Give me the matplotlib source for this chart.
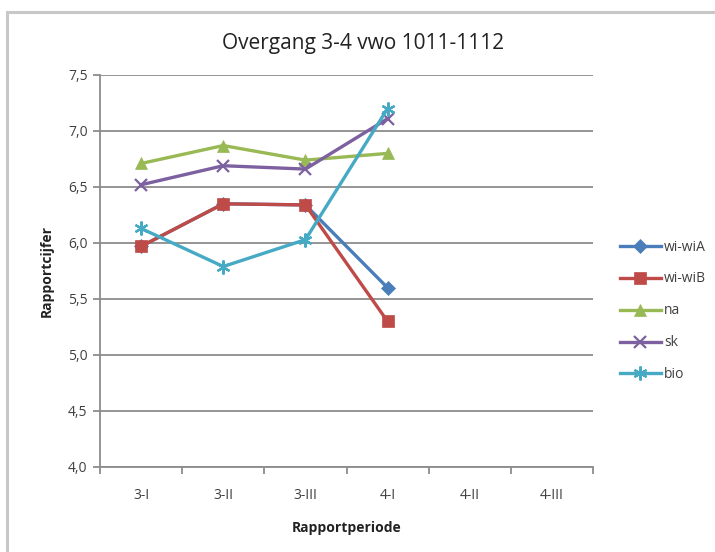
import matplotlib.pyplot as plt
from matplotlib.patches import Rectangle

plt.rcParams['font.family'] = ['Open Sans', 'DejaVu Sans']

perioden = ['3-I', '3-II', '3-III', '4-I', '4-II', '4-III']
wi_wiA = [5.97, 6.35, 6.34, 5.60]
wi_wiB = [5.97, 6.35, 6.34, 5.30]
na = [6.71, 6.87, 6.74, 6.80]
sk = [6.52, 6.69, 6.66, 7.11]
bio = [6.13, 5.79, 6.03, 7.20]

reeksen = [
    ('wi-wiA', wi_wiA, '#4A7EBB', 'D', 7),
    ('wi-wiB', wi_wiB, '#BE4B48', 's', 9),
    ('na', na, '#98B954', '^', 9),
    ('sk', sk, '#7D60A0', 'x', 8),
    ('bio', bio, '#46AAC5', (6, 2, 0), 10),
]

fig = plt.figure(figsize=(7.15, 5.52), dpi=100)
# kader om de grafiek
fig.patches.append(Rectangle((7 / 715, -0.1), 1.2, (552 - 12) / 552 + 0.1,
                             transform=fig.transFigure, fill=False,
                             edgecolor='#c8c8c8', linewidth=2.2))

ax = fig.add_axes([100 / 715, (552 - 467) / 552, 493 / 715, 392 / 552])

x = list(range(len(perioden)))
for naam, waarden, kleur, marker, ms in reeksen:
    ax.plot(x[:len(waarden)], waarden, color=kleur, linewidth=2.4,
            marker=marker, markersize=ms, markeredgewidth=1.6 if marker in ('x', (6, 2, 0)) else 0.5,
            markeredgecolor=kleur, label=naam, clip_on=False)

ax.set_xlim(-0.5, 5.5)
ax.set_ylim(4.0, 7.5)
ax.set_yticks([4.0, 4.5, 5.0, 5.5, 6.0, 6.5, 7.0, 7.5])
ax.set_yticklabels([f'{v:.1f}'.replace('.', ',') for v in ax.get_yticks()])
ax.set_xticks(x)
ax.set_xticklabels(perioden)
ax.set_xticks([i - 0.5 for i in range(7)], minor=True)
ax.tick_params(axis='x', which='major', length=0, pad=15, labelsize=10, labelcolor='#404040')
ax.tick_params(axis='x', which='minor', length=5, width=1.3, color='#8c8c8c', direction='out')
ax.tick_params(axis='y', length=5, width=1.3, color='#8c8c8c', pad=4, labelsize=10, labelcolor='#404040')

ax.grid(axis='y', color='#8c8c8c', linewidth=1.3)
ax.set_axisbelow(True)
for kant in ['top', 'right']:
    ax.spines[kant].set_visible(False)
for kant in ['left', 'bottom']:
    ax.spines[kant].set_color('#8c8c8c')
    ax.spines[kant].set_linewidth(1.3)

# titel gecentreerd boven de hele grafiek, niet alleen boven het plotgebied
fig.text(363 / 715, 1 - 44 / 552, 'Overgang 3-4 vwo 1011-1112', fontsize=15,
         color='#222222', ha='center', va='center')
ax.set_xlabel('Rapportperiode', fontsize=10, fontweight='bold', labelpad=13, color='#222222')
ax.set_ylabel('Rapportcijfer', fontsize=10, fontweight='bold', labelpad=10, color='#222222')

ax.legend(loc='upper left', bbox_to_anchor=(614 / 715, 1 - 234 / 552),
          bbox_transform=fig.transFigure, frameon=False, fontsize=10,
          handlelength=3.0, handletextpad=0.2, labelspacing=1.22,
          labelcolor='#404040', borderaxespad=0)

fig.savefig('out.png', dpi=100)
